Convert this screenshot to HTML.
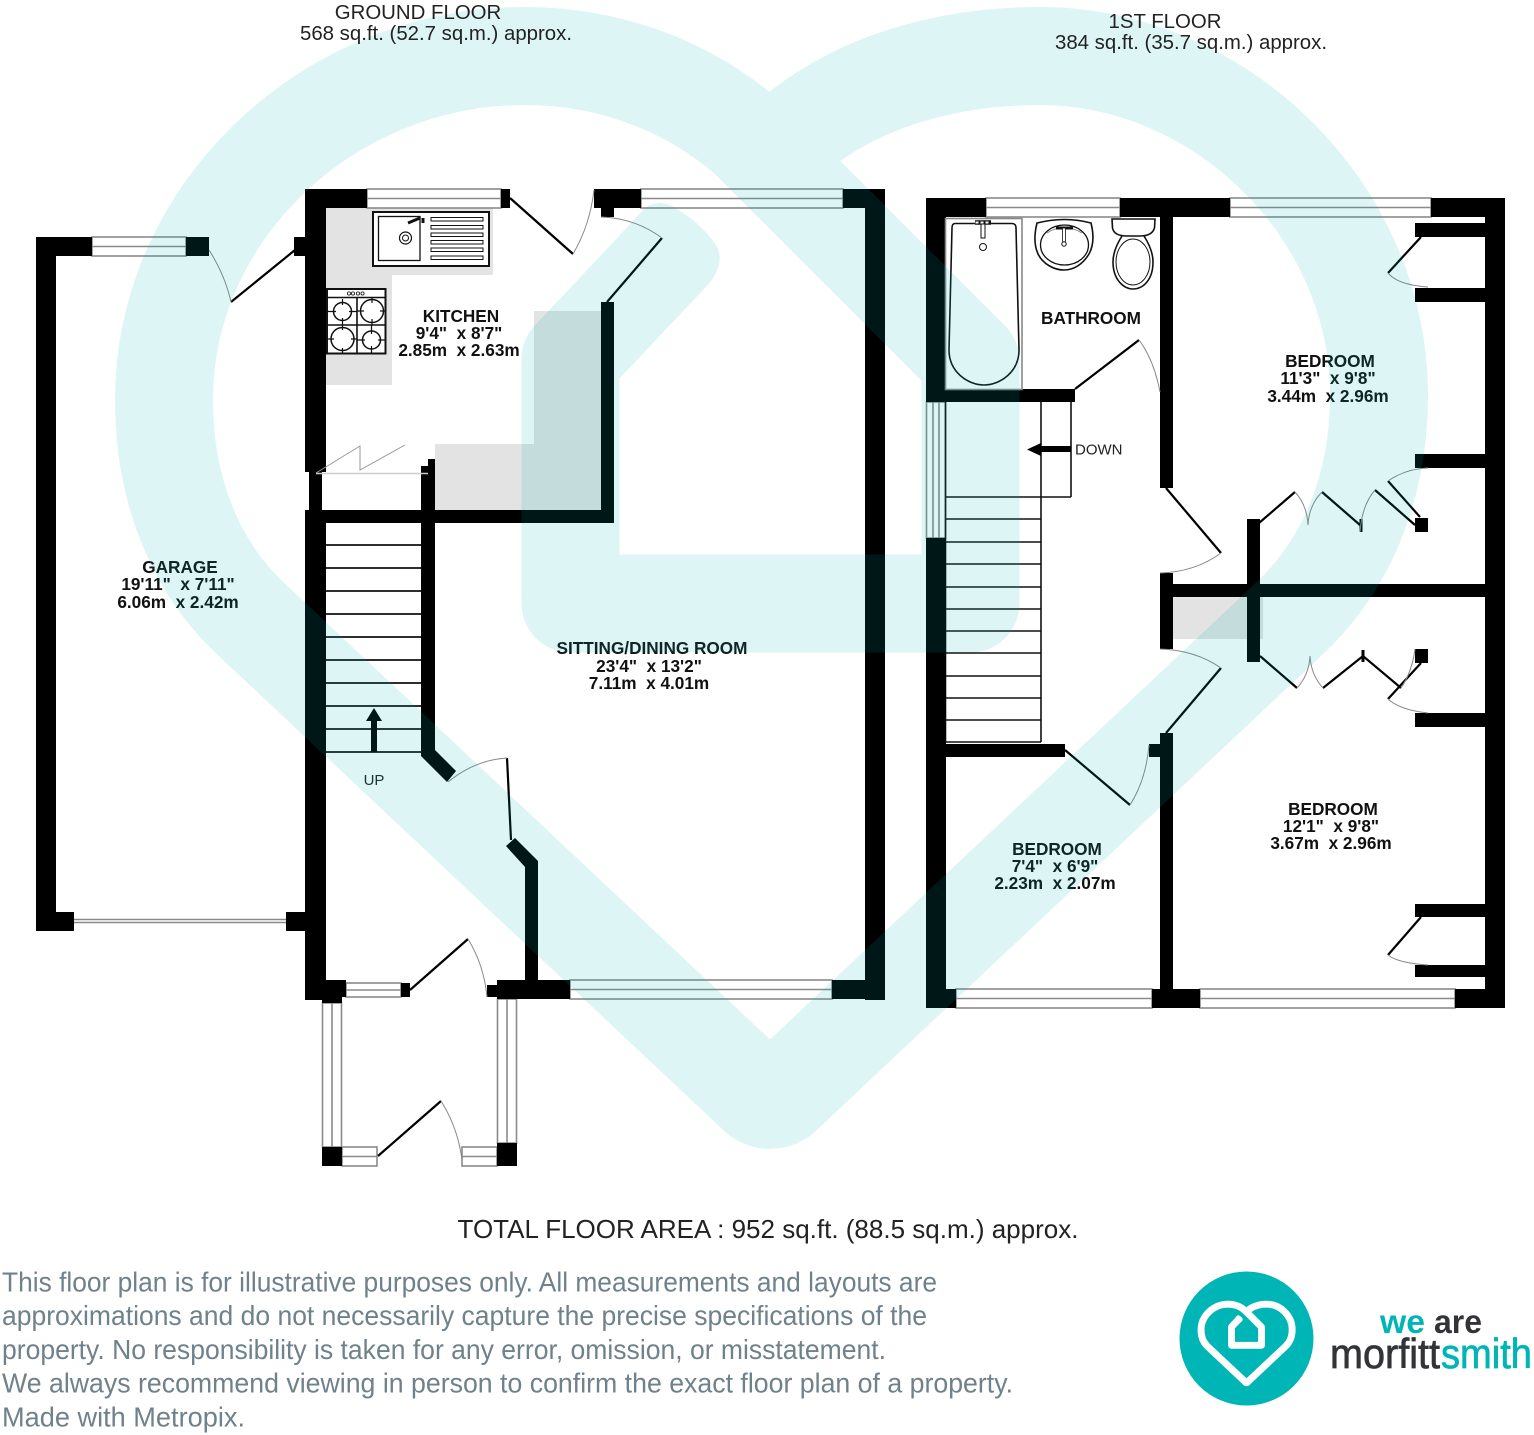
<!DOCTYPE html>
<html><head><meta charset="utf-8"><style>
html,body{margin:0;padding:0;background:#fff}
svg{display:block}
text{font-family:"Liberation Sans",Arial,sans-serif}
.l{font-weight:bold;font-size:17.2px;text-anchor:middle;fill:#111}
.h{font-size:20.4px;text-anchor:middle;fill:#222}
.d{font-size:27.5px;fill:#6f818b}
.w{fill:#fff;stroke:#8a8a8a;stroke-width:1.6}
.c{stroke:#8a8a8a;stroke-width:1.6;fill:none}
.dl{stroke:#000;stroke-width:2.2;fill:none}
.ar{stroke:#888;stroke-width:1;fill:none}
.t{stroke:#111;stroke-width:1.6;fill:none}
</style></head><body>
<svg xmlns="http://www.w3.org/2000/svg" width="1534" height="1435" viewBox="0 0 1534 1435">
<rect width="1534" height="1435" fill="#fff"/>

<!-- grey floor patches -->
<g fill="#e3e3e3">
<path d="M326 208H493V275H392V385H326Z"/>
<path d="M534 311H601V510H435V444H534Z"/>
<rect x="1172" y="597" width="91" height="42"/>
</g>

<!-- GROUND FLOOR windows -->
<rect class="w" x="92" y="237" width="94" height="19"/><path class="c" d="M92 246.5H186"/>
<rect class="w" x="367" y="189" width="134" height="19"/><path class="c" d="M367 198.5H501"/>
<rect class="w" x="641" y="189" width="202" height="19"/><path class="c" d="M641 198.5H843"/>
<rect class="w" x="570" y="980" width="262" height="19"/><path class="c" d="M570 989.5H832"/>
<rect class="w" x="346" y="983" width="55" height="14"/><path class="c" d="M346 990H401"/>
<rect class="w" x="322.5" y="1003" width="19" height="144"/><path class="c" d="M332 1003V1147"/>
<rect class="w" x="497.5" y="999" width="19" height="144"/><path class="c" d="M507 999V1143"/>
<rect class="w" x="342" y="1147" width="35" height="19"/><path class="c" d="M342 1156.5H377"/>
<rect class="w" x="462" y="1147" width="35" height="19"/><path class="c" d="M462 1156.5H497"/>
<path class="c" d="M74 919.5H286M74 922.5H286"/>

<!-- GROUND FLOOR walls -->
<g fill="#000">
<rect x="36" y="237" width="20" height="694"/>
<rect x="36" y="237" width="56" height="19"/>
<rect x="186" y="237" width="23" height="19"/>
<rect x="294" y="237" width="12" height="19"/>
<rect x="36" y="912" width="38" height="19"/>
<rect x="286" y="912" width="20" height="19"/>
<rect x="305" y="189" width="21" height="283"/>
<rect x="309" y="472" width="13" height="40"/>
<rect x="305" y="510" width="21" height="490"/>
<rect x="305" y="510" width="309" height="13"/>
<rect x="305" y="189" width="62" height="19"/>
<rect x="501" y="189" width="9" height="19"/>
<rect x="594" y="189" width="47" height="19"/>
<rect x="601" y="208" width="13" height="9"/>
<rect x="843" y="189" width="42" height="19"/>
<rect x="865" y="189" width="20" height="811"/>
<rect x="601" y="302" width="13" height="221"/>
<rect x="421" y="466" width="14" height="286"/>
<rect x="428" y="459" width="7" height="10"/>
<path d="M421 750L428 752L435 750L456 771L447 782L421 756Z"/>
<path d="M506 846L515 838L538 861V985H525V867Z"/>
<rect x="497" y="980" width="73" height="19"/>
<rect x="487" y="985" width="12" height="12"/>
<rect x="832" y="980" width="53" height="19"/>
<rect x="322" y="980" width="20" height="23"/>
<rect x="342" y="980" width="4" height="17"/>
<rect x="401" y="983" width="9" height="14"/>
<rect x="322" y="1147" width="20" height="19"/>
<rect x="497" y="1143" width="20" height="23"/>
</g>

<!-- GROUND FLOOR doors -->
<path class="dl" d="M231 302L295 250"/><path class="ar" d="M209 250Q225 275 231 302"/>
<path class="dl" d="M510 198L573 254"/><path class="ar" d="M594 190Q590 225 573 254"/>
<path class="dl" d="M662 238L607 302"/><path class="ar" d="M601 217Q635 218 662 238"/>
<path class="dl" d="M507 758L511 840"/><path class="ar" d="M448 782Q475 760 507 758"/>
<path class="dl" d="M410 990L468 939"/><path class="ar" d="M468 939Q484 965 487 997"/>
<path class="dl" d="M378 1156L441 1101"/><path class="ar" d="M441 1101Q458 1128 462 1160"/>
<path d="M316 473L360 446V470L405 445" stroke="#999" stroke-width="1" fill="none"/>
<path d="M316 473.5H428" stroke="#ccc" stroke-width="1.4"/>

<!-- Sink -->
<rect x="373" y="212" width="116" height="54" fill="#fff" stroke="#111" stroke-width="2"/>
<rect x="378.5" y="216.500" width="41.500" height="44" fill="#fff" stroke="#111" stroke-width="1.300"/>
<g fill="#fff" stroke="#111" stroke-width="1"><rect x="431" y="217.500" width="52" height="3.500"/><rect x="431" y="225.500" width="52" height="3.500"/><rect x="431" y="233" width="52" height="3.500"/><rect x="431" y="240.500" width="52" height="3.500"/><rect x="431" y="248" width="52" height="3.500"/><rect x="431" y="256" width="52" height="3.500"/></g>
<circle cx="405.500" cy="238" r="6" fill="#fff" stroke="#111" stroke-width="1.200"/><circle cx="405.500" cy="238" r="3" fill="none" stroke="#111" stroke-width="1"/>
<path d="M408 223L420 218M423 218V223" stroke="#111" stroke-width="3" fill="none"/>
<!-- Hob -->
<rect x="327" y="289" width="58.500" height="64.500" fill="#fff" stroke="#111" stroke-width="2"/>
<path class="t" d="M327 297.500H385M357 297.500V353M327 325H385" stroke-width="1.200"/>
<g fill="#fff" stroke="#111" stroke-width="1.500"><circle cx="342.500" cy="311.500" r="9"/><circle cx="372" cy="311" r="11.500"/><circle cx="342.500" cy="339" r="11.500"/><circle cx="371.500" cy="340" r="9"/></g>
<g stroke="#111" stroke-width="1.200"><path d="M342.500 299V305M342.500 318V325M328 311.500H336M349 311.500H357M372 297.500V303M372 319V325M357 311H364M380 311H385M342.500 325V330M342.500 348V353M328 339H334M351 339H357M371.500 325V334M371.500 346V353M357 340H365M378 340H385"/></g>
<g fill="none" stroke="#111" stroke-width=".8"><circle cx="349" cy="293.500" r="1.600"/><circle cx="353" cy="293.500" r="1.600"/><circle cx="358" cy="293.500" r="1.600"/><circle cx="362.500" cy="293.500" r="1.600"/></g>

<!-- Ground stairs -->
<g stroke="#111" stroke-width="1.700">
<path d="M326 545H421M326 568H421M326 591H421M326 614H421M326 637H421M326 660H421M326 683H421M326 706H421M326 729H421M326 752H421"/>
</g>
<path d="M371 752V721H366L374 708L382 721H377V752Z" fill="#000"/>
<text x="374" y="785" font-size="15" text-anchor="middle" fill="#222">UP</text>

<!-- FIRST FLOOR windows -->
<rect class="w" x="986" y="198" width="134" height="19"/><path class="c" d="M986 207.500H1120"/>
<rect class="w" x="1230" y="198" width="201" height="19"/><path class="c" d="M1230 207.500H1431"/>
<rect class="w" x="926.500" y="402" width="19" height="136"/><path class="c" d="M933 402V538M939 402V538"/>
<rect class="w" x="956" y="989" width="196" height="19"/><path class="c" d="M956 998.500H1152"/>
<rect class="w" x="1200" y="989" width="255" height="19"/><path class="c" d="M1200 998.500H1455"/>

<!-- FIRST FLOOR stairs -->
<g stroke="#111" stroke-width="1.600" fill="none">
<path d="M945.500 402V742M1041 402V742M1071 402V497M945 497H1071"/>
<path d="M945 519H1041M945 542H1041M945 564H1041M945 587H1041M945 609H1041M945 631H1041M945 653H1041M945 676H1041M945 698H1041M945 720H1041M945 742H1041"/>
</g>
<path d="M1071 446V452H1041V456L1027 449.500L1041 443V446Z" fill="#000"/>
<text x="1075" y="454.500" font-size="15" fill="#222">DOWN</text>

<!-- FIRST FLOOR walls -->
<g fill="#000">
<rect x="926" y="198" width="60" height="19"/>
<rect x="1120" y="198" width="110" height="19"/>
<rect x="1431" y="198" width="74" height="19"/>
<rect x="926" y="198" width="20" height="204"/>
<rect x="926" y="389" width="149" height="13"/>
<rect x="1160" y="198" width="13" height="290"/>
<rect x="926" y="538" width="20" height="470"/>
<rect x="926" y="744" width="139" height="13"/>
<rect x="1149" y="744" width="23" height="13"/>
<rect x="1160" y="733" width="13" height="275"/>
<rect x="926" y="989" width="30" height="19"/>
<rect x="1152" y="989" width="48" height="19"/>
<rect x="1455" y="989" width="50" height="19"/>
<rect x="1485" y="198" width="20" height="810"/>
<rect x="1160" y="573" width="13" height="76"/>
<rect x="1160" y="584" width="345" height="13"/>
<rect x="1247" y="519" width="13" height="143"/>
<rect x="1415" y="223" width="70" height="14"/>
<rect x="1415" y="288" width="70" height="14"/>
<rect x="1415" y="454" width="70" height="14"/>
<rect x="1415" y="713" width="70" height="14"/>
<rect x="1415" y="904" width="70" height="13"/>
<rect x="1415" y="965" width="70" height="12"/>
<rect x="1415" y="518" width="13" height="14"/>
<rect x="1415" y="649" width="13" height="14"/>
<rect x="1359.500" y="519" width="3" height="13"/>
<rect x="1361.500" y="650" width="3" height="12"/>
</g>

<!-- FIRST FLOOR doors -->
<path class="dl" d="M1075 389L1139 340"/><path class="ar" d="M1139 340Q1154 360 1160 392"/>
<path class="dl" d="M1166 488L1221 553"/><path class="ar" d="M1160 573Q1195 572 1221 553"/>
<path class="dl" d="M1166 733L1221 668"/><path class="ar" d="M1160 649Q1195 650 1221 668"/>
<path class="dl" d="M1065 750L1130 805"/><path class="ar" d="M1130 805Q1146 780 1149 745"/>
<path class="dl" d="M1421 237L1388 273"/><path class="ar" d="M1388 273Q1398 285 1428 287"/>
<path class="dl" d="M1421 917L1388 955"/><path class="ar" d="M1388 955Q1398 963 1428 965"/>
<path class="dl" d="M1259 523L1295 492M1322 492L1360 525M1375 490L1415 525M1388 481L1420 517"/>
<path class="ar" d="M1295 492Q1307 505 1308 525M1322 492Q1309 505 1308 525M1375 490Q1362 505 1360 532M1388 481Q1405 469 1428 468"/>
<path class="dl" d="M1260 656L1297 688M1323 688L1363 656L1401 688M1421 663L1388 699"/>
<path class="ar" d="M1297 688Q1309 675 1310 656M1323 688Q1311 675 1310 656M1415 649Q1412 672 1401 688M1388 699Q1400 710 1428 713"/>

<!-- Bath -->
<rect x="945.500" y="218.500" width="76.500" height="171" fill="#fff" stroke="#888" stroke-width="1.600"/>
<path class="t" d="M955 223.500H1012Q1016 223.500 1016 228L1019 350C1019 372 1000 385 984 385C968 385 949 372 949 350L952 228Q952 223.500 955 223.500Z"/>
<path d="M975 222.500H991" stroke="#111" stroke-width="4.500"/>
<path d="M975.500 222.500H990.500" stroke="#fff" stroke-width="2" stroke-dasharray="3 2"/>
<rect x="981" y="224" width="4" height="14" fill="#fff" stroke="#111"/>
<circle cx="983" cy="247" r="3.500" fill="#fff" stroke="#111"/>
<!-- Basin -->
<path class="t" d="M1037 223Q1065 216 1091 223C1094 235 1094 245 1089 254C1083 264 1074 270 1064 270C1054 270 1043 264 1038 254C1034 245 1034 235 1037 223Z"/>
<ellipse cx="1064.500" cy="245" rx="24" ry="20" fill="none" stroke="#111" stroke-width="1.300"/>
<path d="M1047 233Q1064 222 1082 233" stroke="#777" stroke-width=".8" fill="none"/>
<path d="M1056 228H1073" stroke="#111" stroke-width="3"/>
<rect x="1062.500" y="228" width="3" height="14" fill="#fff" stroke="#111" stroke-width=".8"/>
<circle cx="1064" cy="244" r="2.200" fill="#fff" stroke="#111"/>
<!-- Toilet -->
<path class="t" d="M1112 219H1155L1154.500 228Q1152 236 1140 236H1127Q1114 236 1112.500 228Z"/>
<path class="t" stroke-width="1.300" d="M1122 236Q1113 250 1113 262C1113 280 1124 289 1133 289C1143 289 1153 280 1153 262Q1153 250 1144 236"/>
<ellipse cx="1133" cy="262" rx="17" ry="23" fill="none" stroke="#111" stroke-width="1"/>

<!-- Room labels -->
<text class="l"><tspan x="461" y="322">KITCHEN</tspan><tspan x="459" y="339">9'4"&#160;&#160;x 8'7"</tspan><tspan x="459" y="356">2.85m&#160;&#160;x 2.63m</tspan></text>
<text class="l"><tspan x="180" y="573">GARAGE</tspan><tspan x="178" y="590">19'11"&#160;&#160;x 7'11"</tspan><tspan x="178" y="608">6.06m&#160;&#160;x 2.42m</tspan></text>
<text class="l"><tspan x="652" y="654">SITTING/DINING ROOM</tspan><tspan x="649" y="672">23'4"&#160;&#160;x 13'2"</tspan><tspan x="649" y="689">7.11m&#160;&#160;x 4.01m</tspan></text>
<text class="l" x="1091" y="324">BATHROOM</text>
<text class="l"><tspan x="1330" y="367">BEDROOM</tspan><tspan x="1328" y="384">11'3"&#160;&#160;x 9'8"</tspan><tspan x="1328" y="402">3.44m&#160;&#160;x 2.96m</tspan></text>
<text class="l"><tspan x="1333" y="815">BEDROOM</tspan><tspan x="1331" y="832">12'1"&#160;&#160;x 9'8"</tspan><tspan x="1331" y="849">3.67m&#160;&#160;x 2.96m</tspan></text>
<text class="l"><tspan x="1057" y="855">BEDROOM</tspan><tspan x="1055" y="872">7'4"&#160;&#160;x 6'9"</tspan><tspan x="1055" y="889">2.23m&#160;&#160;x 2.07m</tspan></text>

<!-- Watermark heart -->
<g opacity=".13">
<g fill="none" stroke="#00b4b4" stroke-width="98" stroke-linejoin="round">
<path d="M654.300 270.200L570.500 359V603.500H970.500V360.500L746 136C680 80 600 56 525 56C330 56 164 210 164 400C164 490 195 566 250 618L756.500 1094"/>
<path d="M783.500 1094L1290 618C1345 566 1379 490 1379 395C1379 210 1220 56 1040 56C960 56 870 75 800 130"/>
</g>
<path fill="#00b4b4" d="M723 1130A68 68 0 0 0 817 1130L790 1058L770 1060L750 1058Z"/>
<path fill="#00b4b4" d="M618.500 236.400L645 208Q660 198 675 208Q700 222 716 245Q727 265 705 288L690 304Z"/>
</g>

<!-- Headers -->
<text class="h"><tspan x="418" y="19">GROUND FLOOR</tspan><tspan x="436" y="40">568 sq.ft. (52.7 sq.m.) approx.</tspan></text>
<text class="h"><tspan x="1165" y="28">1ST FLOOR</tspan><tspan x="1191" y="49">384 sq.ft. (35.7 sq.m.) approx.</tspan></text>
<text x="768" y="1238" font-size="26" text-anchor="middle" fill="#222">TOTAL FLOOR AREA : 952 sq.ft. (88.5 sq.m.) approx.</text>

<!-- Disclaimer -->
<text class="d" x="2" y="1291.500" textLength="935" lengthAdjust="spacingAndGlyphs">This floor plan is for illustrative purposes only. All measurements and layouts are</text>
<text class="d" x="2" y="1325.200" textLength="925" lengthAdjust="spacingAndGlyphs">approximations and do not necessarily capture the precise specifications of the</text>
<text class="d" x="2" y="1359" textLength="884" lengthAdjust="spacingAndGlyphs">property. No responsibility is taken for any error, omission, or misstatement.</text>
<text class="d" x="2" y="1392.700" textLength="1011" lengthAdjust="spacingAndGlyphs">We always recommend viewing in person to confirm the exact floor plan of a property.</text>
<text class="d" x="2" y="1426.500" textLength="243" lengthAdjust="spacingAndGlyphs">Made with Metropix.</text>

<!-- Logo -->
<circle cx="1246.500" cy="1338.500" r="67" fill="#00b5b5"/>
<g transform="translate(1188.750 1300) scale(.075)">
<g fill="none" stroke="#fff" stroke-width="92" stroke-linejoin="round">
<path d="M654.300 270.200L570.500 359V603.500H970.500V360.500L746 136C680 80 600 56 525 56C330 56 164 210 164 400C164 490 195 566 250 618L756.500 1094"/>
<path d="M783.500 1094L1290 618C1345 566 1379 490 1379 395C1379 210 1220 56 1040 56C960 56 870 75 800 130"/>
</g>
<path fill="#fff" d="M723 1130A68 68 0 0 0 817 1130L790 1058L770 1060L750 1058Z"/>
<path fill="#fff" d="M618.500 236.400L645 208Q660 198 675 208Q700 222 716 245Q727 265 705 288L690 304Z"/>
</g>
<text x="1380" y="1333" font-size="33" font-weight="bold" fill="#00b5b5" textLength="45" lengthAdjust="spacingAndGlyphs">we</text>
<text x="1434" y="1333" font-size="33" font-weight="bold" fill="#333438" textLength="48" lengthAdjust="spacingAndGlyphs">are</text>
<text x="1330" y="1368" font-size="42" fill="#333438" stroke="#333438" stroke-width=".7" textLength="110" lengthAdjust="spacingAndGlyphs">morfitt</text>
<text x="1441" y="1368" font-size="42" fill="#00b5b5" stroke="#00b5b5" stroke-width=".7" textLength="91" lengthAdjust="spacingAndGlyphs">smith</text>
</svg>
</body></html>
